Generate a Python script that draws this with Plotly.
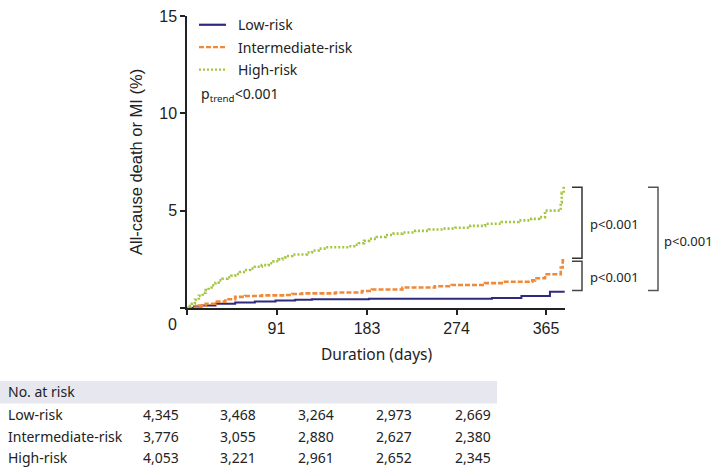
import plotly.graph_objects as go

# ---------------- data ----------------
low_days = [0, 7, 15, 29, 49, 69, 90, 110, 127, 185, 310, 340, 369, 384]
low_vals = [0, 0.08, 0.13, 0.22, 0.28, 0.33, 0.38, 0.42, 0.45, 0.47, 0.52, 0.62, 0.83, 0.83]

int_days = [0, 5, 12, 19, 29, 39, 49, 59, 76, 100, 107, 117, 151, 178, 188, 219, 252, 269,
            303, 320, 351, 354, 364, 380, 382, 384]
int_vals = [0, 0.02, 0.12, 0.22, 0.33, 0.45, 0.57, 0.62, 0.65, 0.67, 0.72, 0.75, 0.80, 0.87,
            0.95, 1.05, 1.12, 1.18, 1.28, 1.35, 1.42, 1.53, 1.73, 2.08, 2.45, 2.45]

high_days = [0, 3, 5, 8, 12, 16, 19, 22, 25, 29, 32, 36, 41, 45, 49, 54, 59, 64, 69, 76, 83,
             88, 93, 97, 100, 107, 117, 122, 127, 134, 141, 164, 170, 175, 180, 185, 193, 202,
             210, 219, 232, 246, 260, 273, 288, 303, 320, 337, 350, 358, 364, 378, 380, 381, 383, 384]
high_vals = [0, 0.1, 0.22, 0.42, 0.63, 0.78, 0.92, 1.05, 1.17, 1.3, 1.42, 1.5, 1.58, 1.66, 1.75,
             1.85, 1.95, 2.03, 2.12, 2.2, 2.3, 2.4, 2.5, 2.6, 2.67, 2.75, 2.75, 2.85, 2.95, 3.05,
             3.12, 3.17, 3.25, 3.33, 3.45, 3.55, 3.65, 3.75, 3.82, 3.88, 3.96, 4.03, 4.08, 4.12,
             4.22, 4.33, 4.42, 4.5, 4.58, 4.67, 5.0, 5.0, 5.42, 5.92, 6.25, 6.25]

series_names = ["Low-risk", "Intermediate-risk", "High-risk"]
series_colors = ["#2e2b7f", "#ef8a3a", "#a3c53f"]
series_dash = ["solid", "5px,2px", "2px,2px"]

x_ticks = [91, 183, 274, 365]
y_ticks = [5, 10, 15]
origin_label = "0"

risk_header = "No. at risk"
risk_low = ["4,345", "3,468", "3,264", "2,973", "2,669"]
risk_int = ["3,776", "3,055", "2,880", "2,627", "2,380"]
risk_high = ["4,053", "3,221", "2,961", "2,652", "2,345"]

pvals = ["p&lt;0.001", "p&lt;0.001", "p&lt;0.001"]

# ---------------- layout geometry (pixels) ----------------
W_IMG, H_IMG = 715, 472
L, R, T, B = 187, 565, 8, 308
PW, PH = R - L, B - T
PX_PER_DAY = (546 - 187) / 365.0


def fx(px):
    return (px - L) / PW


def fy(py):
    return (B - py) / PH


fig = go.Figure()
for days, vals, name, col, dash, w in zip(
        [low_days, int_days, high_days], [low_vals, int_vals, high_vals],
        series_names, series_colors, series_dash, [2, 2.6, 2.6]):
    fig.add_trace(go.Scatter(x=days, y=vals, mode="lines", name=name,
                             line=dict(color=col, width=w, dash=dash, shape="hv"),
                             showlegend=False, hoverinfo="skip"))

TXT = "Noto Sans, Open Sans, sans-serif"
ARIAL = "Liberation Sans, Arial, sans-serif"

shapes = []
annotations = []

# legend
leg_y = [17, 40, 63]
for name, col, dash, yy in zip(series_names, series_colors, series_dash, leg_y):
    shapes.append(dict(type="line", xref="paper", yref="paper",
                       x0=fx(199), x1=fx(226), y0=fy(yy), y1=fy(yy),
                       line=dict(color=col, width=2.2, dash=dash)))
    annotations.append(dict(xref="paper", yref="paper", x=fx(236), y=fy(yy),
                            text=name, showarrow=False, xanchor="left", yanchor="middle",
                            font=dict(family=TXT, size=14, color="#222")))
annotations.append(dict(xref="paper", yref="paper", x=fx(199), y=fy(89),
                        text="p<sub>trend</sub>&lt;0.001", showarrow=False,
                        xanchor="left", yanchor="middle",
                        font=dict(family=TXT, size=14, color="#222")))

# brackets
def bracket(x_in, x_out, y_top, y_bot, color):
    return dict(type="path", xref="paper", yref="paper",
                path=f"M {fx(x_in)},{fy(y_top)} L {fx(x_out)},{fy(y_top)} "
                     f"L {fx(x_out)},{fy(y_bot)} L {fx(x_in)},{fy(y_bot)}",
                line=dict(color=color, width=1.5))

shapes.append(bracket(572, 582, 184, 257, "#333"))
shapes.append(bracket(572, 582, 260, 290, "#444"))
shapes.append(bracket(648, 658, 184, 290, "#555"))
for (xx, yy), t in zip([(588, 222), (588, 276), (662, 239)], pvals):
    annotations.append(dict(xref="paper", yref="paper", x=fx(xx), y=fy(yy), text=t,
                            showarrow=False, xanchor="left", yanchor="middle",
                            font=dict(family=TXT, size=13, color="#222")))

# axis titles and origin label
annotations.append(dict(xref="paper", yref="paper", x=fx(136), y=fy(158),
                        text="All-cause death or MI (%)", textangle=-90, showarrow=False,
                        xanchor="center", yanchor="middle",
                        font=dict(family=ARIAL, size=16.5, color="#222")))
annotations.append(dict(xref="paper", yref="paper", x=fx(376), y=fy(355),
                        text="Duration (days)", showarrow=False,
                        xanchor="center", yanchor="middle",
                        font=dict(family=TXT, size=15.5, color="#222")))
annotations.append(dict(xref="paper", yref="paper", x=fx(172), y=fy(325),
                        text=origin_label, showarrow=False, xanchor="center", yanchor="middle",
                        font=dict(family=ARIAL, size=16, color="#222")))

# risk table
shapes.append(dict(type="rect", xref="paper", yref="paper", x0=fx(0), x1=fx(497),
                   y0=fy(406), y1=fy(383), fillcolor="#e7e7f0", line=dict(width=0),
                   layer="below"))
annotations.append(dict(xref="paper", yref="paper", x=fx(6), y=fy(394), text=risk_header,
                        showarrow=False, xanchor="left", yanchor="middle",
                        font=dict(family=TXT, size=14, color="#222")))
col_right = [181, 258, 336, 414, 493]
for row_y, label, vals in zip([417, 440, 462], series_names, [risk_low, risk_int, risk_high]):
    annotations.append(dict(xref="paper", yref="paper", x=fx(6), y=fy(row_y), text=label,
                            showarrow=False, xanchor="left", yanchor="middle",
                            font=dict(family=TXT, size=14, color="#222")))
    for cx, v in zip(col_right, vals):
        annotations.append(dict(xref="paper", yref="paper", x=fx(cx), y=fy(row_y), text=v,
                                showarrow=False, xanchor="right", yanchor="middle",
                                font=dict(family=TXT, size=14, color="#222")))

axis_common = dict(ticks="outside", ticklen=5, tickwidth=1.5, tickcolor="#222",
                   showline=True, linecolor="#222", linewidth=1.5, showgrid=False,
                   zeroline=False, ticklabeloverflow="allow",
                   minor=dict(tickvals=[0], ticks="outside", ticklen=5, tickwidth=1.5,
                              tickcolor="#222", showgrid=False),
                   tickfont=dict(family=ARIAL, size=16, color="#222"))

fig.update_layout(
    width=W_IMG, height=H_IMG,
    margin=dict(l=L, r=W_IMG - R, t=T, b=H_IMG - B),
    paper_bgcolor="white", plot_bgcolor="white",
    shapes=shapes, annotations=annotations,
    xaxis=dict(range=[0, PW / PX_PER_DAY], tickvals=x_ticks,
               ticktext=[str(v) for v in x_ticks], **axis_common),
    yaxis=dict(range=[0, 15], tickvals=y_ticks,
               ticktext=[str(v) for v in y_ticks], **axis_common),
)

fig.write_html("out.html", config={"displayModeBar": False},
               post_script="document.body.style.margin='0';document.body.style.overflow='hidden';")
